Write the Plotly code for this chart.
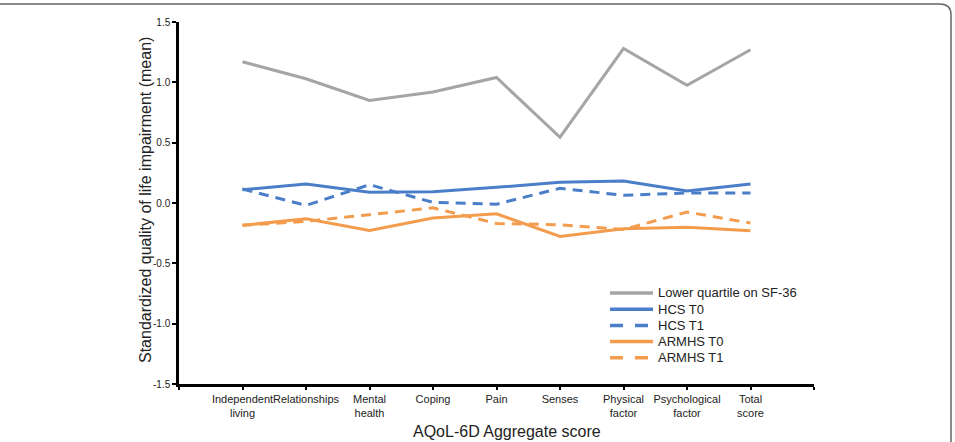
import plotly.graph_objects as go

categories = ["Independent<br>living", "Relationships", "Mental<br>health", "Coping", "Pain",
              "Senses", "Physical<br>factor", "Psychological<br>factor", "Total<br>score"]
lower_quartile = [1.17, 1.03, 0.85, 0.92, 1.04, 0.545, 1.28, 0.975, 1.27]
hcs_t0 = [0.11, 0.158, 0.089, 0.094, 0.13, 0.172, 0.183, 0.10, 0.158]
hcs_t1 = [0.116, -0.02, 0.152, 0.005, -0.01, 0.122, 0.064, 0.083, 0.083]
armhs_t0 = [-0.185, -0.13, -0.227, -0.125, -0.09, -0.277, -0.213, -0.20, -0.23]
armhs_t1 = [-0.185, -0.152, -0.097, -0.04, -0.17, -0.18, -0.22, -0.075, -0.166]
y_ticks = [-1.5, -1.0, -0.5, 0.0, 0.5, 1.0, 1.5]
y_ticktext = ["-1.5", "-1.0", "-0.5", "0.0", "0.5", "1.0", "1.5"]
x_title = "AQoL-6D Aggregate score"
y_title = "Standardized quality of life impairment (mean)"

GRAY = "#A5A5A5"
BLUE = "#4A7EC8"
ORANGE = "#F39C4E"
DASH = "10px,7px"

xs = list(range(len(categories)))
series = [
    ("Lower quartile on SF-36", lower_quartile, GRAY, "solid"),
    ("HCS T0", hcs_t0, BLUE, "solid"),
    ("HCS T1", hcs_t1, BLUE, DASH),
    ("ARMHS T0", armhs_t0, ORANGE, "solid"),
    ("ARMHS T1", armhs_t1, ORANGE, DASH),
]

fig = go.Figure()
for name, vals, col, dash in series:
    fig.add_trace(go.Scatter(x=xs, y=vals, mode="lines", name=name, showlegend=False,
                             line=dict(color=col, width=3, dash=dash)))

L, R, T, B = 179, 141, 22, 58
W, H = 955, 442
pw, ph = W - L - R, H - T - B

def px(x):
    return (x - L) / pw

def py(y):
    return (H - B - y) / ph

border = (f"M {px(-5)},{py(4)} L {px(940)},{py(4)} "
          f"Q {px(951)},{py(4)} {px(951)},{py(15)} L {px(951)},{py(450)}")

shapes = [dict(type="path", xref="paper", yref="paper", path=border,
               line=dict(color="#666", width=1.5))]
annotations = [
    dict(xref="paper", yref="paper", x=px(507), y=py(431), xanchor="center",
         yanchor="middle", showarrow=False, text=x_title,
         font=dict(size=16, color="#222")),
    dict(xref="paper", yref="paper", x=px(145), y=py(200), xanchor="center",
         yanchor="middle", showarrow=False, text=y_title, textangle=-90,
         font=dict(size=16, color="#222")),
]
# manual legend (compact rows like the reference)
leg_x0, leg_x1, leg_tx, leg_y0, leg_dy = 610, 653, 656, 293, 16.2
for i, (name, vals, col, dash) in enumerate(series):
    yy = leg_y0 + i * leg_dy
    shapes.append(dict(type="line", xref="paper", yref="paper",
                       x0=px(leg_x0), x1=px(leg_x1), y0=py(yy), y1=py(yy),
                       line=dict(color=col, width=3.5,
                                 dash="13px,12px" if dash != "solid" else "solid")))
    annotations.append(dict(xref="paper", yref="paper", x=px(leg_tx), y=py(yy),
                            xanchor="left", yanchor="middle", showarrow=False,
                            text=name, font=dict(size=13, color="#222")))

fig.update_layout(
    width=W, height=H,
    margin=dict(l=L, r=R, t=T, b=B),
    paper_bgcolor="white", plot_bgcolor="white",
    font=dict(family="Liberation Sans, Arial, sans-serif", color="#222"),
    showlegend=False,
    xaxis=dict(range=[-1, 9], tickmode="array",
               tickvals=list(range(-1, 10)),
               ticktext=[""] + categories + [""],
               tickangle=0, automargin=False,
               showline=True, linecolor="black", linewidth=2.5,
               ticks="outside", ticklen=3, tickwidth=1.5, tickcolor="black",
               showgrid=False, zeroline=False,
               tickfont=dict(size=11, color="#222")),
    yaxis=dict(range=[-1.5, 1.5], tickmode="array", tickvals=y_ticks, ticktext=y_ticktext,
               automargin=False,
               showline=True, linecolor="black", linewidth=2.5,
               ticks="outside", ticklen=4, tickwidth=1.5, tickcolor="black",
               showgrid=False, zeroline=False,
               tickfont=dict(size=10, color="#222")),
    shapes=shapes,
    annotations=annotations,
)

fig.write_html("out.html")
